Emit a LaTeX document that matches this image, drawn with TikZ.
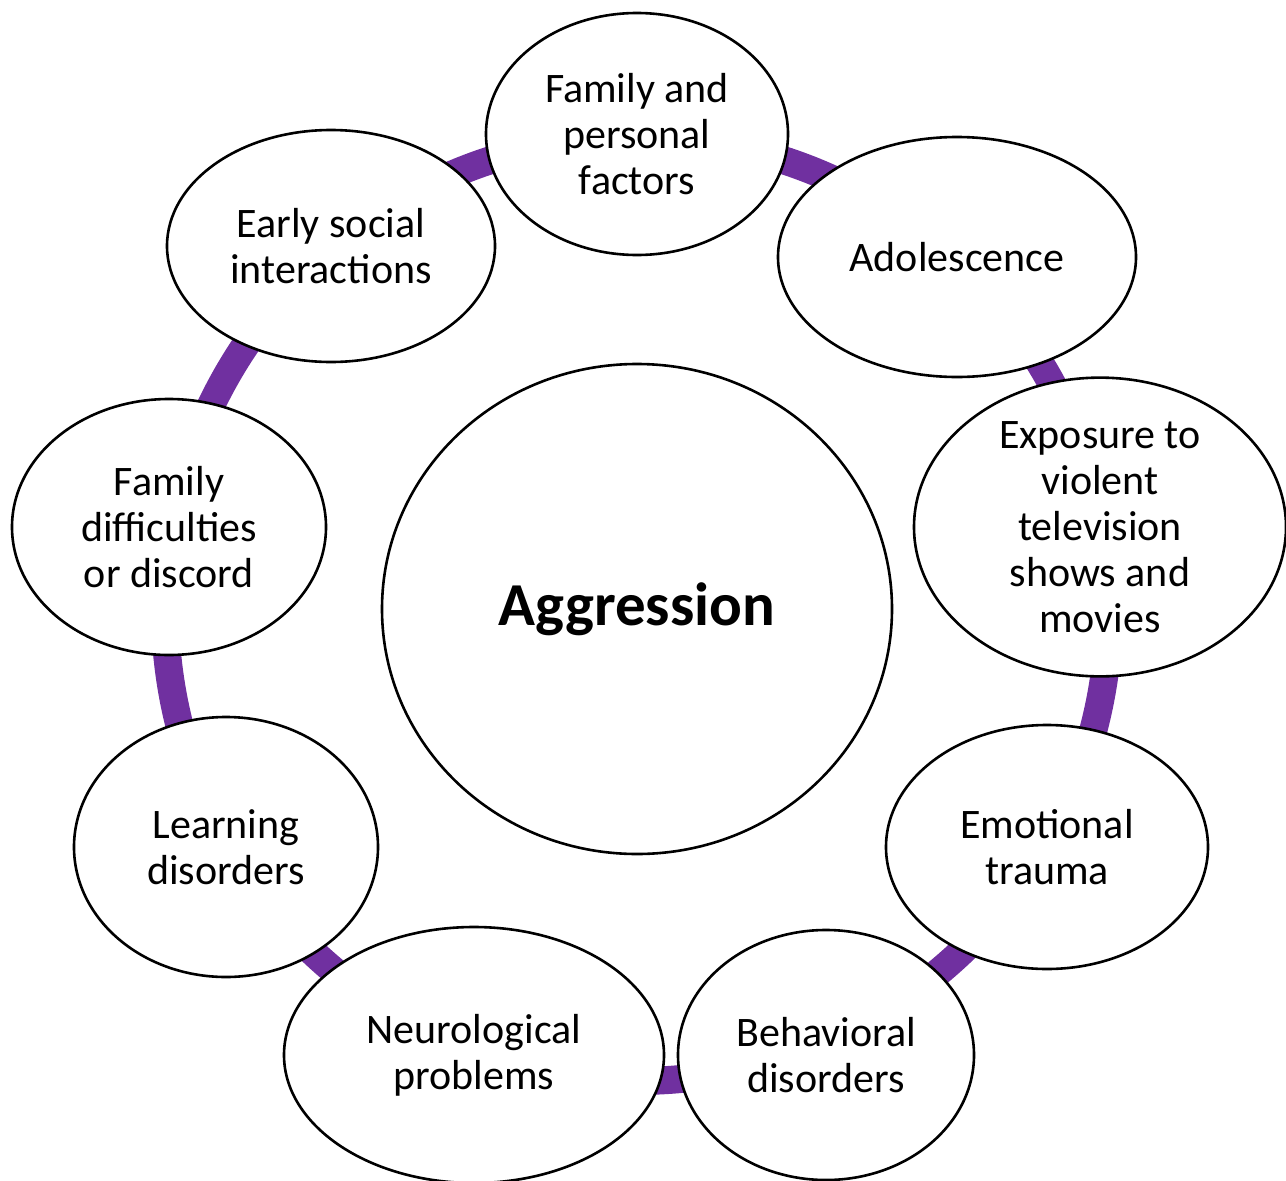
\documentclass[tikz,border=0pt]{standalone}
\usepackage{fontspec}
\setmainfont{Carlito}
\usetikzlibrary{shapes.geometric}
\definecolor{ringpurple}{HTML}{7030A0}
\begin{document}
\begin{tikzpicture}[x=1pt,y=-1pt,
  oval/.style={draw=black, line width=2.6pt, fill=white, ellipse, inner sep=0pt, align=center, font=\fontsize{42}{46}\selectfont},
  ring/.style={draw=ringpurple, line width=28pt}]
\useasboundingbox (0,0) rectangle (1286,1181);
\clip (0,0) rectangle (1286,1181);
\node[draw=black, line width=2.6pt, fill=white, ellipse, minimum width=510pt, minimum height=490pt, inner sep=0pt, font=\fontsize{61}{70}\selectfont\bfseries] (agg) at (637,609) {Aggression};
\draw[ring] (agg.center) circle[radius=472];
\node[oval, minimum width=302pt, minimum height=242pt] (fam) at (637,134) {Family and\\personal\\factors};
\node[oval, minimum width=358pt, minimum height=240pt] (ado) at (957,257) {Adolescence};
\node[oval, minimum width=372pt, minimum height=294pt] (exp) at (1100,527) {Exposure to\\violent\\television\\shows and\\movies};
\node[oval, minimum width=322pt, minimum height=244pt] (emo) at (1047,847) {Emotional\\trauma};
\node[oval, minimum width=296pt, minimum height=250pt] (beh) at (826,1055) {Behavioral\\disorders};
\node[oval, minimum width=380pt, minimum height=256pt] (neu) at (474,1055) {Neurological\\problems};
\node[oval, minimum width=304pt, minimum height=260pt] (lea) at (226,847) {Learning\\disorders};
\node[oval, minimum width=314pt, minimum height=256pt] (fdd) at (169,527) {Family\\difficulties\\or discord};
\node[oval, minimum width=328pt, minimum height=232pt] (ear) at (331,246) {Early social\\interactions};
\end{tikzpicture}
\end{document}
